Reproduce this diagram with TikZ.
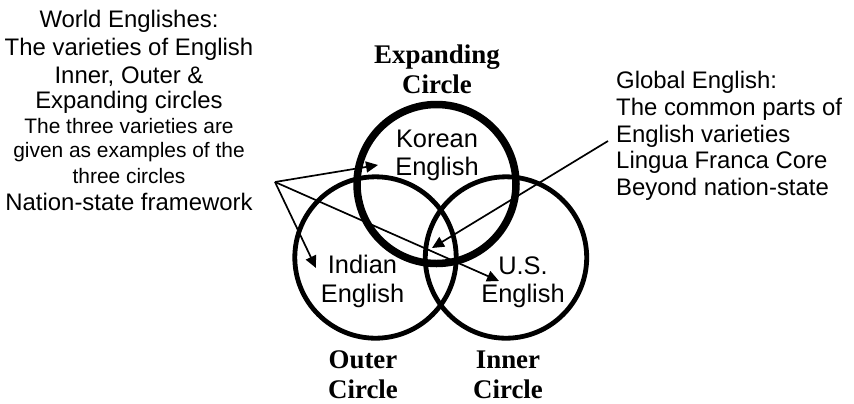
\documentclass[tikz,border=0pt]{standalone}
\usepackage{fontspec}
\setmainfont{Liberation Sans}
\newfontfamily\serifbf{Liberation Serif}
\usetikzlibrary{arrows.meta}
\tikzset{
  big/.style={font=\fontsize{24}{27}\selectfont, inner sep=0pt, anchor=base},
  small/.style={font=\fontsize{21}{24}\selectfont, inner sep=0pt, anchor=base},
  lab/.style={font=\fontsize{25.5}{28}\selectfont, inner sep=0pt, anchor=base},
  ctitle/.style={font=\serifbf\bfseries\fontsize{27}{30}\selectfont, inner sep=0pt, anchor=base},
  thin circ/.style={line width=4.8bp},
  thick circ/.style={line width=7.5bp},
  arr/.style={line width=1.7bp, -{Triangle[length=12bp,width=11bp]}}
}
\begin{document}
\begin{tikzpicture}[x=1bp,y=-1bp]
\useasboundingbox (0,0) rectangle (854,403);
% circles
\draw[thin circ] (375.5,257.5) circle[radius=80.7];
\draw[thin circ] (506,257.5) circle[radius=80.7];
\draw[thick circ] (436.5,184) circle[radius=79.5];
% circle titles
\node[ctitle] (exp1) at (437,63) {Expanding};
\node[ctitle] (exp2) at (437,93) {Circle};
\node[ctitle] (out1) at (363,368) {Outer};
\node[ctitle] (out2) at (363,398) {Circle};
\node[ctitle] (inn1) at (508,368) {Inner};
\node[ctitle] (inn2) at (508,398) {Circle};
% variety labels
\node[lab] (kor1) at (437,147) {Korean};
\node[lab] (kor2) at (437,175) {English};
\node[lab] (ind1) at (362.5,273) {Indian};
\node[lab] (ind2) at (362.5,302) {English};
\node[lab] (us1) at (523,274) {U.S.};
\node[lab] (us2) at (523,302) {English};
% left text
\node[big] (w1) at (129,27) {World Englishes:};
\node[big] (w2) at (129,55) {The varieties of English};
\node[big] (w3) at (129,83) {Inner, Outer \&};
\node[big] (w4) at (129,108) {Expanding circles};
\node[small] (w5) at (129,133) {The three varieties are};
\node[small] (w6) at (129,157) {given as examples of the};
\node[small] (w7) at (129,183) {three circles};
\node[big] (w8) at (129,210) {Nation-state framework};
% right text
\node[big,anchor=base west] (g1) at (616,88) {Global English:};
\node[big,anchor=base west] (g2) at (616,115) {The common parts of};
\node[big,anchor=base west] (g3) at (616,142) {English varieties};
\node[big,anchor=base west] (g4) at (616,168) {Lingua Franca Core};
\node[big,anchor=base west] (g5) at (616,195) {Beyond nation-state};
% arrows
\coordinate (src) at (275,182);
\coordinate (tkor) at (378,165);
\coordinate (tind) at (316,268);
\coordinate (tus) at (499,281);
\coordinate (gsrc) at (608,141);
\coordinate (tglob) at (432,248);
\draw[arr] (src) -- (tkor);
\draw[arr] (src) -- (tind);
\draw[arr] (src) -- (tus);
\draw[arr] (gsrc) -- (tglob);
\end{tikzpicture}
\end{document}
